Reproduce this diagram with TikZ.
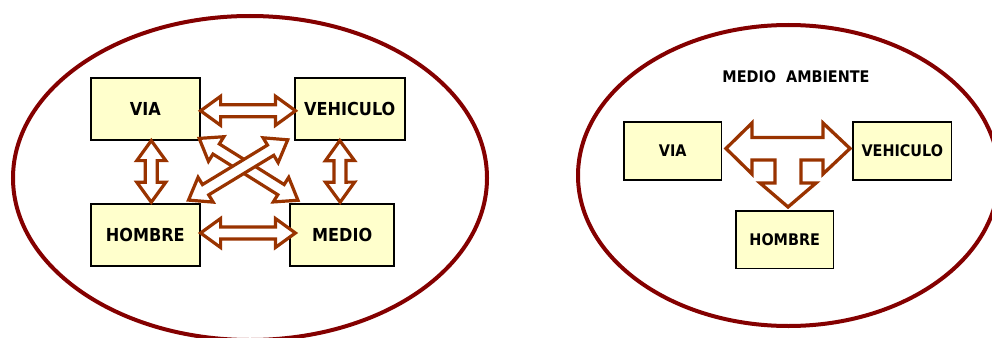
\documentclass[tikz,border=0pt]{standalone}
\usepackage{fontspec}
\setmainfont{DejaVu Sans}[FakeStretch=0.9]
\usetikzlibrary{calc}
\definecolor{boxfill}{HTML}{FFFFCC}
\definecolor{arrc}{HTML}{993300}
\definecolor{ellc}{HTML}{840000}
\tikzset{
  ell/.style={draw=ellc, line width=4pt},
  lbox/.style={draw=black, line width=1.6pt, fill=boxfill, inner sep=0pt,
    font=\bfseries\fontsize{17.9}{20}\selectfont},
  rbox/.style={draw=black, line width=1.6pt, fill=boxfill, inner sep=0pt,
    font=\bfseries\fontsize{16}{18}\selectfont},
  blockarrow/.style={draw=arrc, line width=3.2pt, fill=white, line join=miter},
  dblarrow/.pic={
    \draw[blockarrow] (0pt,0pt) -- (20pt,14.5pt) -- (20pt,6pt) -- (#1-20pt,6pt)
      -- (#1-20pt,14.5pt) -- (#1,0pt) -- (#1-20pt,-14.5pt) -- (#1-20pt,-6pt)
      -- (20pt,-6pt) -- (20pt,-14.5pt) -- cycle;
  }
}
\newcommand{\barrow}[2]{%
  \path let \p1=(#1), \p2=(#2),
    \n1={atan2(\y2-\y1,\x2-\x1)}, \n2={veclen(\x2-\x1,\y2-\y1)} in
    (\p1) pic[rotate=\n1] {dblarrow=\n2};%
}
\begin{document}
\begin{tikzpicture}[x=1pt,y=-1pt]
\useasboundingbox (0,0) rectangle (992,337);
\clip (0,0) rectangle (992,337);
% ellipses
\draw[ell] (250,178) ellipse [x radius=237pt, y radius=162pt];
\draw[ell] (788.5,175.5) ellipse [x radius=210.5pt, y radius=150.5pt];
% left boxes
\node[lbox, minimum width=109, minimum height=62] (via) at (145.3,108.8) {VIA};
\node[lbox, minimum width=110, minimum height=62] (veh) at (349.8,108.8) {VEHICULO};
\node[lbox, minimum width=109, minimum height=62] (hom) at (145.3,235) {HOMBRE};
\node[lbox, minimum width=104, minimum height=62] (med) at (342.2,235) {MEDIO};
% left arrows
\barrow{$(via.east)+(0,2)$}{$(veh.west)+(1.5,2)$}
\barrow{$(hom.east)+(0,-2)$}{$(med.west)+(6,-2)$}
\barrow{$(via.south)+(6,0)$}{$(hom.north)+(6,-1)$}
\barrow{$(veh.south)+(-10,0)$}{$(med.north)+(-2,-1)$}
\barrow{$(via.south east)+(-1.4,-2.2)$}{$(med.north west)+(8.6,-2.9)$}
\barrow{$(hom.north east)+(-12.1,-3.1)$}{$(veh.south west)+(-6.1,-0.9)$}
% right side
\node[font=\bfseries\fontsize{16}{18}\selectfont] (amb) at (796,76.5) {MEDIO~~AMBIENTE};
\node[rbox, minimum width=97.4, minimum height=58] (rvia) at (672.8,150.8) {VIA};
\node[rbox, minimum width=98.4, minimum height=58] (rveh) at (902.3,150.8) {VEHICULO};
\node[rbox, minimum width=97.7, minimum height=57.7] (rhom) at (784.7,239.7) {HOMBRE};
\draw[blockarrow, line width=3.3pt]
  (726,148.5) -- (752,123) -- (752,137.5) -- (823,137.5) -- (823,123) -- (850,148.5)
  -- (823,174) -- (823,160) -- (801,160) -- (801,183) -- (816,183) -- (788,207)
  -- (760,183) -- (775,183) -- (775,160) -- (752,160) -- (752,174) -- cycle;
\end{tikzpicture}
\end{document}
